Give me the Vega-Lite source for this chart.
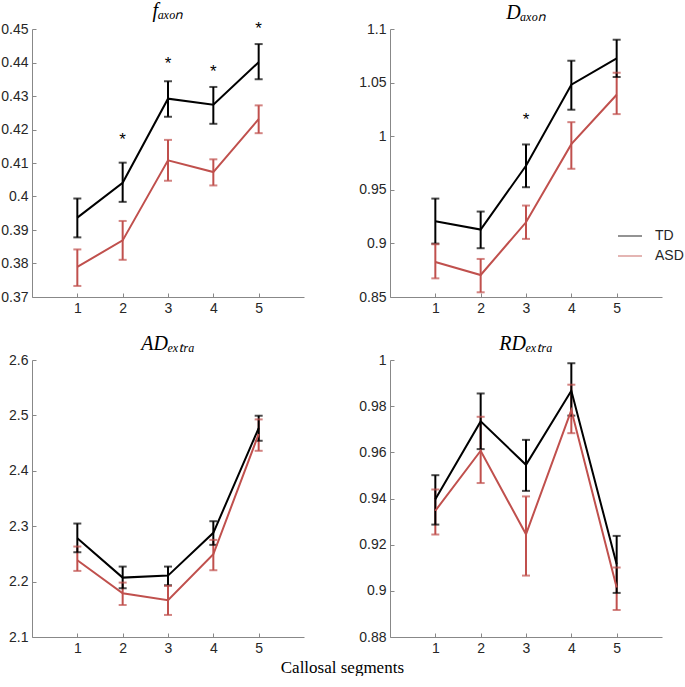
{
  "$schema": "https://vega.github.io/schema/vega-lite/v6.json",
  "padding": {"left": 0, "top": 0, "right": 0, "bottom": 0},
  "background": "white",
  "datasets": {
    "d": [
      {"panel": "f", "group": "ASD", "seg": 1, "mean": 0.3790, "lo": 0.3733, "hi": 0.3842},
      {"panel": "f", "group": "ASD", "seg": 2, "mean": 0.3869, "lo": 0.3811, "hi": 0.3927},
      {"panel": "f", "group": "ASD", "seg": 3, "mean": 0.4108, "lo": 0.4047, "hi": 0.4169},
      {"panel": "f", "group": "ASD", "seg": 4, "mean": 0.4073, "lo": 0.4033, "hi": 0.4111},
      {"panel": "f", "group": "ASD", "seg": 5, "mean": 0.4231, "lo": 0.4189, "hi": 0.4272},
      {"panel": "f", "group": "TD", "seg": 1, "mean": 0.3937, "lo": 0.3878, "hi": 0.3994},
      {"panel": "f", "group": "TD", "seg": 2, "mean": 0.4041, "lo": 0.3984, "hi": 0.4101},
      {"panel": "f", "group": "TD", "seg": 3, "mean": 0.4292, "lo": 0.4238, "hi": 0.4344},
      {"panel": "f", "group": "TD", "seg": 4, "mean": 0.4274, "lo": 0.4217, "hi": 0.4327},
      {"panel": "f", "group": "TD", "seg": 5, "mean": 0.4401, "lo": 0.4350, "hi": 0.4455},
      {"panel": "D", "group": "ASD", "seg": 1, "mean": 0.8827, "lo": 0.8674, "hi": 0.8992},
      {"panel": "D", "group": "ASD", "seg": 2, "mean": 0.8705, "lo": 0.8544, "hi": 0.8855},
      {"panel": "D", "group": "ASD", "seg": 3, "mean": 0.9197, "lo": 0.9042, "hi": 0.9353},
      {"panel": "D", "group": "ASD", "seg": 4, "mean": 0.9926, "lo": 0.9696, "hi": 1.0131},
      {"panel": "D", "group": "ASD", "seg": 5, "mean": 1.0387, "lo": 1.0206, "hi": 1.0592},
      {"panel": "D", "group": "TD", "seg": 1, "mean": 0.9207, "lo": 0.8998, "hi": 0.9418},
      {"panel": "D", "group": "TD", "seg": 2, "mean": 0.9129, "lo": 0.8955, "hi": 0.9297},
      {"panel": "D", "group": "TD", "seg": 3, "mean": 0.9724, "lo": 0.9524, "hi": 0.9923},
      {"panel": "D", "group": "TD", "seg": 4, "mean": 1.0480, "lo": 1.0247, "hi": 1.0704},
      {"panel": "D", "group": "TD", "seg": 5, "mean": 1.0726, "lo": 1.0552, "hi": 1.0900},
      {"panel": "AD", "group": "ASD", "seg": 1, "mean": 2.2386, "lo": 2.2193, "hi": 2.2633},
      {"panel": "AD", "group": "ASD", "seg": 2, "mean": 2.1789, "lo": 2.1578, "hi": 2.1982},
      {"panel": "AD", "group": "ASD", "seg": 3, "mean": 2.1663, "lo": 2.1398, "hi": 2.1922},
      {"panel": "AD", "group": "ASD", "seg": 4, "mean": 2.2494, "lo": 2.2205, "hi": 2.2753},
      {"panel": "AD", "group": "ASD", "seg": 5, "mean": 2.4663, "lo": 2.4361, "hi": 2.4928},
      {"panel": "AD", "group": "TD", "seg": 1, "mean": 2.2783, "lo": 2.2530, "hi": 2.3048},
      {"panel": "AD", "group": "TD", "seg": 2, "mean": 2.2072, "lo": 2.1880, "hi": 2.2271},
      {"panel": "AD", "group": "TD", "seg": 3, "mean": 2.2108, "lo": 2.1934, "hi": 2.2271},
      {"panel": "AD", "group": "TD", "seg": 4, "mean": 2.2880, "lo": 2.2663, "hi": 2.3090},
      {"panel": "AD", "group": "TD", "seg": 5, "mean": 2.4770, "lo": 2.4542, "hi": 2.4994},
      {"panel": "RD", "group": "ASD", "seg": 1, "mean": 0.9347, "lo": 0.9244, "hi": 0.9439},
      {"panel": "RD", "group": "ASD", "seg": 2, "mean": 0.9607, "lo": 0.9467, "hi": 0.9754},
      {"panel": "RD", "group": "ASD", "seg": 3, "mean": 0.9245, "lo": 0.9066, "hi": 0.9409},
      {"panel": "RD", "group": "ASD", "seg": 4, "mean": 0.9783, "lo": 0.9683, "hi": 0.9893},
      {"panel": "RD", "group": "ASD", "seg": 5, "mean": 0.9014, "lo": 0.8917, "hi": 0.9101},
      {"panel": "RD", "group": "TD", "seg": 1, "mean": 0.9397, "lo": 0.9287, "hi": 0.9501},
      {"panel": "RD", "group": "TD", "seg": 2, "mean": 0.9734, "lo": 0.9614, "hi": 0.9855},
      {"panel": "RD", "group": "TD", "seg": 3, "mean": 0.9546, "lo": 0.9433, "hi": 0.9654},
      {"panel": "RD", "group": "TD", "seg": 4, "mean": 0.9867, "lo": 0.9759, "hi": 0.9986},
      {"panel": "RD", "group": "TD", "seg": 5, "mean": 0.9115, "lo": 0.8991, "hi": 0.9238}
    ],
    "s": [
      {"panel": "f", "seg": 2, "y": 0.4181},
      {"panel": "f", "seg": 3, "y": 0.4406},
      {"panel": "f", "seg": 4, "y": 0.4384},
      {"panel": "f", "seg": 5, "y": 0.4512},
      {"panel": "D", "seg": 3, "y": 1.0184}
    ]
  },
  "title": {"text": "Callosal segments", "orient": "bottom", "font": "Liberation Serif", "fontStyle": "normal", "fontSize": 17, "fontWeight": "normal", "color": "#000", "anchor": "middle", "offset": 5, "frame": "bounds"},
  "columns": 2,
  "spacing": {"row": 63, "column": 86},
  "bounds": "flush",
  "resolve": {"scale": {"color": "independent"}, "legend": {"color": "independent"}},
  "concat": [
    {
      "width": 272, "height": 268,
      "title": {"text": "fₐₓₒₙ"},
      "data": {"name": "d"},
      "transform": [{"filter": "datum.panel === 'f'"}],
      "encoding": {
        "x": {"field": "seg", "type": "quantitative", "scale": {"domain": [0, 6], "nice": false}, "axis": {"values": [1, 2, 3, 4, 5], "title": null, "format": "d"}},
        "color": {"field": "group", "type": "nominal", "scale": {"domain": ["TD", "ASD"], "range": ["#000000", "#c0504d"]}, "legend": null}
      },
      "layer": [
        {"mark": {"type": "rule", "strokeWidth": 2}, "encoding": {"y": {"field": "lo", "type": "quantitative", "scale": {"domain": [0.37, 0.45], "nice": false, "zero": false}, "axis": {"values": [0.37, 0.38, 0.39, 0.4, 0.41, 0.42, 0.43, 0.44, 0.45], "format": ".2~f", "title": null}}, "y2": {"field": "hi"}}},
        {"mark": {"type": "tick", "orient": "horizontal", "size": 8, "thickness": 2}, "encoding": {"y": {"field": "lo", "type": "quantitative", "scale": {"domain": [0.37, 0.45], "nice": false, "zero": false}, "axis": {"values": [0.37, 0.38, 0.39, 0.4, 0.41, 0.42, 0.43, 0.44, 0.45], "format": ".2~f", "title": null}}}},
        {"mark": {"type": "tick", "orient": "horizontal", "size": 8, "thickness": 2}, "encoding": {"y": {"field": "hi", "type": "quantitative", "scale": {"domain": [0.37, 0.45], "nice": false, "zero": false}, "axis": {"values": [0.37, 0.38, 0.39, 0.4, 0.41, 0.42, 0.43, 0.44, 0.45], "format": ".2~f", "title": null}}}},
        {"mark": {"type": "line", "strokeWidth": 2}, "encoding": {"y": {"field": "mean", "type": "quantitative", "scale": {"domain": [0.37, 0.45], "nice": false, "zero": false}, "axis": {"values": [0.37, 0.38, 0.39, 0.4, 0.41, 0.42, 0.43, 0.44, 0.45], "format": ".2~f", "title": null}}}},
        {"data": {"name": "s"}, "transform": [{"filter": "datum.panel === 'f'"}], "mark": {"type": "text", "text": "*", "fontSize": 17, "font": "Liberation Sans", "dy": 4}, "encoding": {"y": {"field": "y", "type": "quantitative", "scale": {"domain": [0.37, 0.45], "nice": false, "zero": false}, "axis": {"values": [0.37, 0.38, 0.39, 0.4, 0.41, 0.42, 0.43, 0.44, 0.45], "format": ".2~f", "title": null}}, "color": {"value": "#000"}}}
      ]
    },
    {
      "width": 272, "height": 268,
      "title": {"text": "Dₐₓₒₙ"},
      "data": {"name": "d"},
      "transform": [{"filter": "datum.panel === 'D'"}],
      "encoding": {
        "x": {"field": "seg", "type": "quantitative", "scale": {"domain": [0, 6], "nice": false}, "axis": {"values": [1, 2, 3, 4, 5], "title": null, "format": "d"}},
        "color": {"field": "group", "type": "nominal", "scale": {"domain": ["TD", "ASD"], "range": ["#000000", "#c0504d"]}, "legend": {"orient": "none", "legendX": 227, "legendY": 194, "title": null, "symbolType": "stroke", "symbolSize": 576, "symbolStrokeWidth": 1.2, "labelFont": "Liberation Sans", "labelFontSize": 14, "labelColor": "#262626", "labelOffset": 12, "rowPadding": -5, "padding": 0}}
      },
      "layer": [
        {"mark": {"type": "rule", "strokeWidth": 2}, "encoding": {"y": {"field": "lo", "type": "quantitative", "scale": {"domain": [0.85, 1.1], "nice": false, "zero": false}, "axis": {"values": [0.85, 0.9, 0.95, 1, 1.05, 1.1], "format": ".2~f", "title": null}}, "y2": {"field": "hi"}}},
        {"mark": {"type": "tick", "orient": "horizontal", "size": 8, "thickness": 2}, "encoding": {"y": {"field": "lo", "type": "quantitative", "scale": {"domain": [0.85, 1.1], "nice": false, "zero": false}, "axis": {"values": [0.85, 0.9, 0.95, 1, 1.05, 1.1], "format": ".2~f", "title": null}}}},
        {"mark": {"type": "tick", "orient": "horizontal", "size": 8, "thickness": 2}, "encoding": {"y": {"field": "hi", "type": "quantitative", "scale": {"domain": [0.85, 1.1], "nice": false, "zero": false}, "axis": {"values": [0.85, 0.9, 0.95, 1, 1.05, 1.1], "format": ".2~f", "title": null}}}},
        {"mark": {"type": "line", "strokeWidth": 2}, "encoding": {"y": {"field": "mean", "type": "quantitative", "scale": {"domain": [0.85, 1.1], "nice": false, "zero": false}, "axis": {"values": [0.85, 0.9, 0.95, 1, 1.05, 1.1], "format": ".2~f", "title": null}}}},
        {"data": {"name": "s"}, "transform": [{"filter": "datum.panel === 'D'"}], "mark": {"type": "text", "text": "*", "fontSize": 17, "font": "Liberation Sans", "dy": 4}, "encoding": {"y": {"field": "y", "type": "quantitative", "scale": {"domain": [0.85, 1.1], "nice": false, "zero": false}, "axis": {"values": [0.85, 0.9, 0.95, 1, 1.05, 1.1], "format": ".2~f", "title": null}}, "color": {"value": "#000"}}}
      ]
    },
    {
      "width": 272, "height": 277,
      "title": {"text": "ADₑₓₜᵣₐ"},
      "data": {"name": "d"},
      "transform": [{"filter": "datum.panel === 'AD'"}],
      "encoding": {
        "x": {"field": "seg", "type": "quantitative", "scale": {"domain": [0, 6], "nice": false}, "axis": {"values": [1, 2, 3, 4, 5], "title": null, "format": "d"}},
        "color": {"field": "group", "type": "nominal", "scale": {"domain": ["TD", "ASD"], "range": ["#000000", "#c0504d"]}, "legend": null}
      },
      "layer": [
        {"mark": {"type": "rule", "strokeWidth": 2}, "encoding": {"y": {"field": "lo", "type": "quantitative", "scale": {"domain": [2.1, 2.6], "nice": false, "zero": false}, "axis": {"values": [2.1, 2.2, 2.3, 2.4, 2.5, 2.6], "format": ".1f", "title": null}}, "y2": {"field": "hi"}}},
        {"mark": {"type": "tick", "orient": "horizontal", "size": 8, "thickness": 2}, "encoding": {"y": {"field": "lo", "type": "quantitative", "scale": {"domain": [2.1, 2.6], "nice": false, "zero": false}, "axis": {"values": [2.1, 2.2, 2.3, 2.4, 2.5, 2.6], "format": ".1f", "title": null}}}},
        {"mark": {"type": "tick", "orient": "horizontal", "size": 8, "thickness": 2}, "encoding": {"y": {"field": "hi", "type": "quantitative", "scale": {"domain": [2.1, 2.6], "nice": false, "zero": false}, "axis": {"values": [2.1, 2.2, 2.3, 2.4, 2.5, 2.6], "format": ".1f", "title": null}}}},
        {"mark": {"type": "line", "strokeWidth": 2}, "encoding": {"y": {"field": "mean", "type": "quantitative", "scale": {"domain": [2.1, 2.6], "nice": false, "zero": false}, "axis": {"values": [2.1, 2.2, 2.3, 2.4, 2.5, 2.6], "format": ".1f", "title": null}}}}
      ]
    },
    {
      "width": 272, "height": 277,
      "title": {"text": "RDₑₓₜᵣₐ"},
      "data": {"name": "d"},
      "transform": [{"filter": "datum.panel === 'RD'"}],
      "encoding": {
        "x": {"field": "seg", "type": "quantitative", "scale": {"domain": [0, 6], "nice": false}, "axis": {"values": [1, 2, 3, 4, 5], "title": null, "format": "d"}},
        "color": {"field": "group", "type": "nominal", "scale": {"domain": ["TD", "ASD"], "range": ["#000000", "#c0504d"]}, "legend": null}
      },
      "layer": [
        {"mark": {"type": "rule", "strokeWidth": 2}, "encoding": {"y": {"field": "lo", "type": "quantitative", "scale": {"domain": [0.88, 1], "nice": false, "zero": false}, "axis": {"values": [0.88, 0.9, 0.92, 0.94, 0.96, 0.98, 1], "format": ".2~f", "title": null}}, "y2": {"field": "hi"}}},
        {"mark": {"type": "tick", "orient": "horizontal", "size": 8, "thickness": 2}, "encoding": {"y": {"field": "lo", "type": "quantitative", "scale": {"domain": [0.88, 1], "nice": false, "zero": false}, "axis": {"values": [0.88, 0.9, 0.92, 0.94, 0.96, 0.98, 1], "format": ".2~f", "title": null}}}},
        {"mark": {"type": "tick", "orient": "horizontal", "size": 8, "thickness": 2}, "encoding": {"y": {"field": "hi", "type": "quantitative", "scale": {"domain": [0.88, 1], "nice": false, "zero": false}, "axis": {"values": [0.88, 0.9, 0.92, 0.94, 0.96, 0.98, 1], "format": ".2~f", "title": null}}}},
        {"mark": {"type": "line", "strokeWidth": 2}, "encoding": {"y": {"field": "mean", "type": "quantitative", "scale": {"domain": [0.88, 1], "nice": false, "zero": false}, "axis": {"values": [0.88, 0.9, 0.92, 0.94, 0.96, 0.98, 1], "format": ".2~f", "title": null}}}}
      ]
    }
  ],
  "config": {
    "view": {"stroke": null},
    "axis": {"domainColor": "#888888", "tickColor": "#888888", "labelFont": "Liberation Sans", "labelFontSize": 14, "labelColor": "#262626", "grid": false, "tickSize": -4, "labelPadding": 8, "domainWidth": 1, "tickWidth": 1},
    "title": {"font": "Liberation Serif", "fontStyle": "italic", "fontSize": 20, "fontWeight": "normal", "color": "#000000", "frame": "group", "anchor": "middle", "offset": -1}
  }
}
